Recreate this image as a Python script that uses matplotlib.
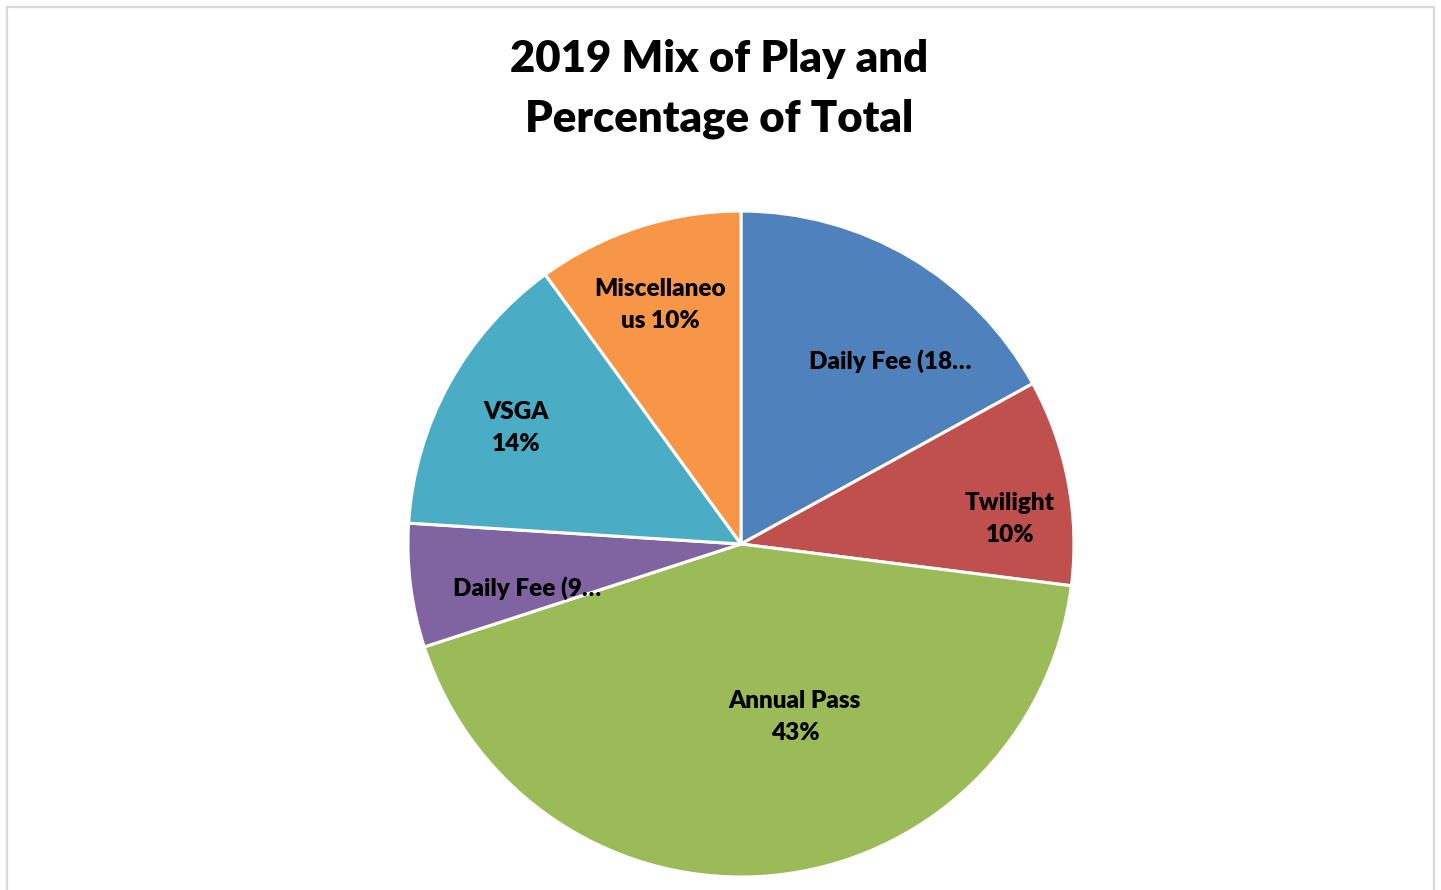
import matplotlib
matplotlib.use("Agg")
import matplotlib.pyplot as plt
from matplotlib.patches import Rectangle
import numpy as np

categories = ["Daily Fee (18 holes)", "Twilight", "Annual Pass", "Daily Fee (9 holes)", "VSGA", "Miscellaneous"]
shares = [17, 10, 43, 6, 14, 10]
label_texts = ["Daily Fee (18…", "Twilight\n10%", "Annual Pass\n43%", "Daily Fee (9…", "VSGA\n14%", "Miscellaneo\nus 10%"]
colors = ["#4F81BD", "#C0504D", "#9BBB59", "#8064A2", "#4BACC6", "#F79646"]
title = "2019 Mix of Play and\nPercentage of Total"

# label anchor positions (in pie-radius units)
label_pos = [(0.447, 0.550), (0.808, 0.075), (0.162, -0.520), (-0.643, -0.132), (-0.676, 0.348), (-0.243, 0.718)]

plt.rcParams['font.family'] = ['Lato', 'DejaVu Sans']

fig = plt.figure(figsize=(14.41, 8.90), dpi=100)
fig.patch.set_facecolor("white")

# chart border
fig.patches.append(Rectangle((7/1441, -0.05), (1434-7)/1441, 1.05 - 7/890,
                             transform=fig.transFigure, fill=False,
                             edgecolor="#D9D9D9", linewidth=1.6))

ax = fig.add_axes([0.2831, 0.0146, 0.4622, 0.7483])
ax.pie(shares, colors=colors, startangle=90, counterclock=False,
       wedgeprops=dict(edgecolor="white", linewidth=2.2))
ax.set_xlim(-1.0, 1.0)
ax.set_ylim(-1.0, 1.0)
ax.set_aspect("equal")
ax.axis("off")

for txt, (x, y) in zip(label_texts, label_pos):
    ax.text(x, y, txt, ha="center", va="center", fontsize=17.5, fontweight="heavy",
            color="black", linespacing=1.55)

fig.text(719/1441, 1 - 89/890, title, ha="center", va="center", fontsize=31.4,
         fontweight="heavy", color="black", linespacing=1.58)

fig.savefig("out.png", dpi=100, facecolor="white")
